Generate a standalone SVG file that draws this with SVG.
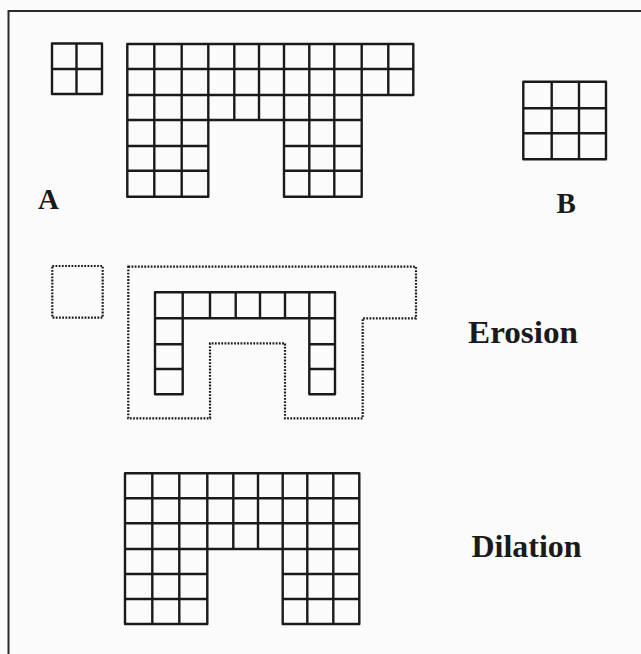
<svg xmlns="http://www.w3.org/2000/svg" width="641" height="654" viewBox="0 0 641 654">
<style>
.g{fill:none;stroke:#1a1a1a;stroke-width:2.4;stroke-linejoin:round}
.d{fill:none;stroke:#1a1a1a;stroke-width:2.2;stroke-dasharray:1.8 1.4}
.t{font-family:"Liberation Serif","Times New Roman",serif;font-weight:bold;fill:#1a1a1a}
</style>
<rect x="0" y="0" width="641" height="654" fill="#fafbfa"/>
<rect x="8.5" y="11" width="640" height="660" fill="none" stroke="#2a2a2a" stroke-width="2"/>
<g id="setA-small">
<path class="g" d="M52 43.5H102V94H52Z M76.5 43.5V94 M52 69H102"/>
</g>
<g id="setA">
<path class="g" d="M127.3 44H413.3V95H361.7V196.7H284V120H208.3V196.7H127.3Z
M127.3 69H413.3 M127.3 95H361.7
M127.3 120H208.3 M284 120H361.7
M127.3 146H208.3 M284 146H361.7
M127.3 170.7H208.3 M284 170.7H361.7
M154.3 44V196.7 M181.7 44V196.7 M309.3 44V196.7 M334.3 44V196.7
M208.3 44V120 M234.3 44V120 M259 44V120 M284 44V120
M361.7 44V95 M388.3 44V95"/>
<text class="t" x="38" y="209" font-size="29">A</text>
</g>
<g id="setB">
<path class="g" d="M523.3 81.7H606V159.3H523.3Z M551.7 81.7V159.3 M579 81.7V159.3 M523.3 108.3H606 M523.3 133.3H606"/>
<text class="t" x="556.5" y="213" font-size="29">B</text>
</g>
<g id="erosion-small">
<path class="d" d="M52.3 266H102.7V317.7H52.3Z"/>
</g>
<g id="erosion">
<path class="d" d="M128.3 266.7H416V318.3H362.7V418.3H285V343.3H210V418.3H128.3Z"/>
<path class="g" d="M155 292.3H335V394.3H309.3V318.3H182.7V394.3H155Z
M155 318.3H182.7 M309.3 318.3H335
M155 344.3H182.7 M309.3 344.3H335
M155 369H182.7 M309.3 369H335
M182.7 292.3V318.3 M210 292.3V318.3 M235.7 292.3V318.3 M260 292.3V318.3 M285 292.3V318.3 M309.3 292.3V318.3"/>
<text class="t" x="468" y="343" font-size="31" textLength="110" lengthAdjust="spacingAndGlyphs">Erosion</text>
</g>
<g id="dilation">
<path class="g" d="M125 473.3H359.3V624H282.7V549H207.3V624H125Z
M125 498.3H359.3 M125 523.3H359.3
M125 549H207.3 M282.7 549H359.3
M125 574H207.3 M282.7 574H359.3
M125 599H207.3 M282.7 599H359.3
M152.3 473.3V624 M179.3 473.3V624 M307.3 473.3V624 M333.3 473.3V624
M207.3 473.3V549 M233.3 473.3V549 M258 473.3V549 M282.7 473.3V549"/>
<text class="t" x="471.5" y="556.5" font-size="31" textLength="110" lengthAdjust="spacingAndGlyphs">Dilation</text>
</g>
<g id="connectors"></g>
</svg>
